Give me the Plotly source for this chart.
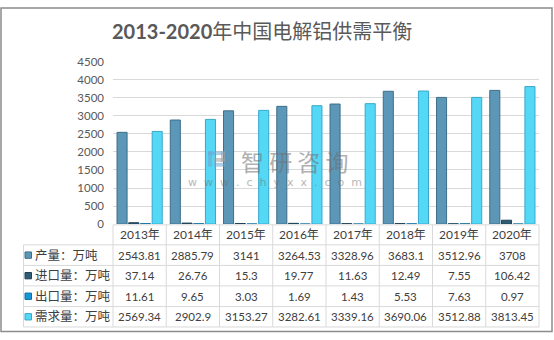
import plotly.graph_objects as go

# ---- data (万吨) ----
years = ["2013年", "2014年", "2015年", "2016年", "2017年", "2018年", "2019年", "2020年"]
output = [2543.81, 2885.79, 3141, 3264.53, 3328.96, 3683.1, 3512.96, 3708]
imports = [37.14, 26.76, 15.3, 19.77, 11.63, 12.49, 7.55, 106.42]
exports = [11.61, 9.65, 3.03, 1.69, 1.43, 5.53, 7.63, 0.97]
demand = [2569.34, 2902.9, 3153.27, 3282.61, 3339.16, 3690.06, 3512.88, 3813.45]

series_names = ["产量：万吨", "进口量：万吨", "出口量：万吨", "需求量：万吨"]
series_values = [output, imports, exports, demand]
fill_colors = ["#5C97B8", "#2E5B75", "#1895D6", "#55D8F5"]
edge_colors = ["#3F6E88", "#1F4257", "#0F6FA3", "#36A8CC"]

W, H = 554, 340
PLOT_L, PLOT_R = 113, 539
PLOT_T, PLOT_B = 57, 225.7
ROW_LINES = [226.5, 247.3, 268.7, 290.0, 311.5, 332.7]
TABLE_L = 23.5

def px(x):
    return x / W

def py(y):
    return 1 - y / H

text_font = "Lato, 'Noto Sans CJK SC', sans-serif"
grid_col = "#D9D9D9"
text_col = "#404040"

fig = go.Figure()
for name, vals, fc, ec in zip(series_names, series_values, fill_colors, edge_colors):
    fig.add_trace(go.Bar(
        x=years, y=vals, name=name,
        marker=dict(color=fc, line=dict(color=ec, width=1)),
        showlegend=False, hoverinfo="x+y+name",
    ))

shapes = []
annotations = []

def label(x, y, text, size, color=text_col, family=text_font, xref="paper",
          xanchor="center", opacity=1.0):
    annotations.append(dict(x=x, xref=xref, y=y, yref="paper", text=text,
                            xanchor=xanchor, yanchor="middle", showarrow=False,
                            opacity=opacity,
                            font=dict(family=family, size=size, color=color)))

# table grid: horizontal lines
for i, yl in enumerate(ROW_LINES):
    x0 = PLOT_L if i == 0 else TABLE_L
    shapes.append(dict(type="line", xref="paper", yref="paper",
                       x0=px(x0), x1=px(PLOT_R), y0=py(yl), y1=py(yl),
                       line=dict(color=grid_col, width=1)))
# table grid: vertical lines
ncat = len(years)
colw = (PLOT_R - PLOT_L) / ncat
for k in range(ncat + 1):
    xl = PLOT_L + k * colw
    shapes.append(dict(type="line", xref="paper", yref="paper",
                       x0=px(xl), x1=px(xl), y0=py(ROW_LINES[0]), y1=py(ROW_LINES[-1]),
                       line=dict(color=grid_col, width=1)))
shapes.append(dict(type="line", xref="paper", yref="paper",
                   x0=px(TABLE_L), x1=px(TABLE_L), y0=py(ROW_LINES[1]), y1=py(ROW_LINES[-1]),
                   line=dict(color=grid_col, width=1)))

# header row with years
hdr_y = (ROW_LINES[0] + ROW_LINES[1]) / 2
for yr in years:
    label(yr, py(hdr_y), yr, 12, xref="x")

# data rows with legend keys
for r, (name, vals, fc, ec) in enumerate(zip(series_names, series_values, fill_colors, edge_colors)):
    yc = (ROW_LINES[r + 1] + ROW_LINES[r + 2]) / 2
    shapes.append(dict(type="rect", xref="paper", yref="paper",
                       x0=px(25), x1=px(31.5), y0=py(yc + 3.3), y1=py(yc - 3.3),
                       fillcolor=fc, line=dict(color=ec, width=1)))
    label(px(33), py(yc), name, 12.5, xanchor="left")
    for yr, v in zip(years, vals):
        label(yr, py(yc), f"{v:g}", 11.5, xref="x")

# title
label(px(262), py(25), "<b>2013-2020</b>年中国电解铝供需平衡", 20, color="#595959")

# watermark
label(px(294), py(160), "智 研 咨 询", 23, color="#707070",
      family="'Noto Sans CJK SC', sans-serif", opacity=0.55)
label(px(275), py(182), "w  w  w  .  c  h  y  x  x  .  c  o  m", 11, color="#707070",
      family="'DejaVu Sans', sans-serif", opacity=0.5)
for (a, b, c, d, col) in [(208, 150, 225, 154, "#6fa6d2"), (208, 150, 212, 166, "#6fa6d2"),
                          (214, 157, 225, 161, "#a0a0a0"), (214, 162, 225, 166, "#6fa6d2"),
                          (221, 150, 225, 161, "#a0a0a0")]:
    shapes.append(dict(type="rect", xref="paper", yref="paper", layer="above",
                       x0=px(a), x1=px(c), y0=py(d), y1=py(b),
                       fillcolor=col, opacity=0.55, line=dict(width=0)))

# outer frame
shapes.append(dict(type="rect", xref="paper", yref="paper",
                   x0=px(1), x1=px(552), y0=py(337.5), y1=py(1),
                   line=dict(color="#8C8C8C", width=1.5)))

fig.update_layout(
    width=W, height=H,
    margin=dict(l=0, r=0, t=0, b=0),
    paper_bgcolor="white", plot_bgcolor="white",
    barmode="group", bargap=0.12, bargroupgap=0.14,
    xaxis=dict(domain=[px(PLOT_L), px(PLOT_R)], showticklabels=False, ticks="",
               showgrid=False, showline=False, zeroline=False, fixedrange=True),
    yaxis=dict(domain=[py(PLOT_B), py(PLOT_T)], range=[0, 4500], dtick=500,
               showgrid=True, gridcolor=grid_col, gridwidth=1, zeroline=False,
               showline=False, ticks="", ticklabelstandoff=8,
               tickfont=dict(family=text_font, size=11.5, color="#595959"), fixedrange=True),
    shapes=shapes,
    annotations=annotations,
)

fig.write_html("out.html")
